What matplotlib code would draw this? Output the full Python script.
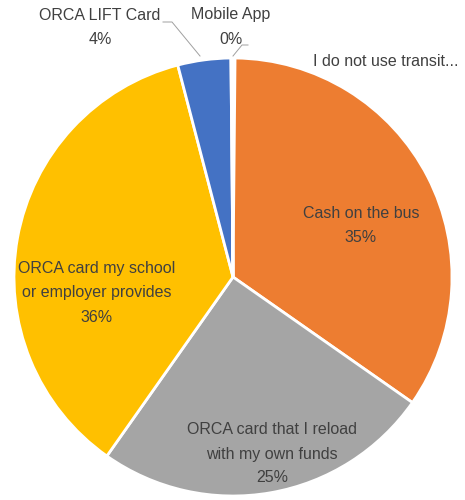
import matplotlib
matplotlib.use("Agg")
import matplotlib.pyplot as plt

# slices in clockwise order starting from 12 o'clock
labels = ["I do not use transit...", "Cash on the bus", "ORCA card that I reload\nwith my own funds",
          "ORCA card my school\nor employer provides", "ORCA LIFT Card", "Mobile App"]
values = [0.15, 34.5, 25.0, 36.1, 3.9, 0.15]
pct_labels = ["", "35%", "25%", "36%", "4%", "0%"]
colors = ["#4472C4", "#ED7D31", "#A5A5A5", "#FFC000", "#4472C4", "#70AD47"]

plt.rcParams['font.family'] = ['Liberation Sans', 'DejaVu Sans']

fig = plt.figure(figsize=(4.65, 5.0), dpi=100)
ax = fig.add_axes([0, 0, 1, 1])

R = 219.0
cx, cy = 233.0, 277.0

def px(x, y):
    # pixel position in the picture -> data coords of the pie
    return (x - cx) / R, (cy - y) / R

ax.pie(values, colors=colors, startangle=90, counterclock=False, radius=1.0,
       wedgeprops=dict(edgecolor="white", linewidth=2))
ax.set_xlim(-cx / R, (465 - cx) / R)
ax.set_ylim(-(500 - cy) / R, cy / R)
ax.set_aspect("equal")
ax.axis("off")

txt = dict(fontsize=11.5, color="#404040", ha="center", va="center", linespacing=1.75)

# inside labels
ax.text(*px(361, 226), labels[1] + "\n" + pct_labels[1], **txt)
ax.text(*px(272, 454), labels[2] + "\n" + pct_labels[2], **txt)
ax.text(*px(97, 293), labels[3] + "\n" + pct_labels[3], **txt)

# outside labels
ax.text(*px(100, 27), labels[4] + "\n" + pct_labels[4], **txt)
ax.text(*px(231, 27), labels[5] + "\n" + pct_labels[5], **txt)
ax.text(*px(313, 61), labels[0], fontsize=11.5, color="#404040", ha="left", va="center")

# leader lines
ax.plot(*zip(px(163, 22), px(172, 22), px(200, 56)), color="#A0A0A0", lw=0.7)
ax.plot(*zip(px(248, 45), px(242, 45), px(233, 56)), color="#A0A0A0", lw=0.7)

fig.savefig("out.png", dpi=100, facecolor="white")
